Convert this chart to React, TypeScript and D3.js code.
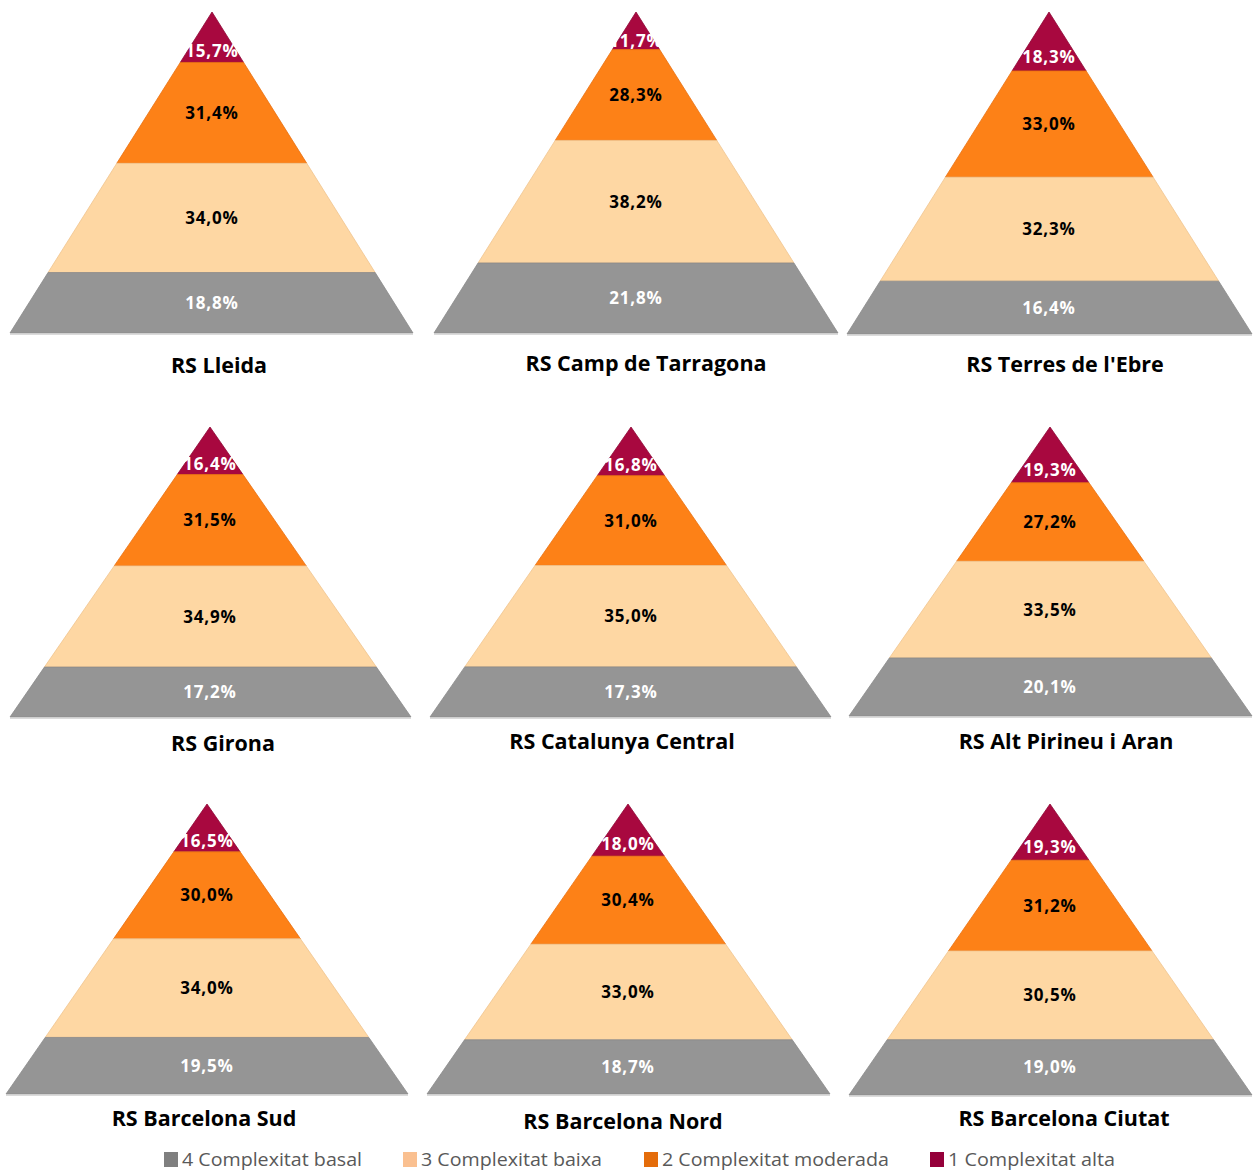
import React from "react";
import * as d3 from "d3";

const regions = [
  "RS Lleida",
  "RS Camp de Tarragona",
  "RS Terres de l'Ebre",
  "RS Girona",
  "RS Catalunya Central",
  "RS Alt Pirineu i Aran",
  "RS Barcelona Sud",
  "RS Barcelona Nord",
  "RS Barcelona Ciutat",
];
// top -> bottom
const alta = [15.7, 11.7, 18.3, 16.4, 16.8, 19.3, 16.5, 18.0, 19.3];
const moderada = [31.4, 28.3, 33.0, 31.5, 31.0, 27.2, 30.0, 30.4, 31.2];
const baixa = [34.0, 38.2, 32.3, 34.9, 35.0, 33.5, 34.0, 33.0, 30.5];
const basal = [18.8, 21.8, 16.4, 17.2, 17.3, 20.1, 19.5, 18.7, 19.0];

const legendLabels = [
  "4 Complexitat basal",
  "3 Complexitat baixa",
  "2 Complexitat moderada",
  "1 Complexitat alta",
];

// layout (pixel geometry of each panel)
const panels = [
  { ax: 212, ay: 12, bl: 10, br: 413, by: 333, tx: 219, ty: 373 },
  { ax: 636, ay: 12, bl: 434, br: 838, by: 333, tx: 646, ty: 371 },
  { ax: 1049, ay: 12, bl: 847, br: 1252, by: 334, tx: 1065, ty: 372 },
  { ax: 210, ay: 427, bl: 10, br: 411, by: 717, tx: 223, ty: 751 },
  { ax: 631, ay: 427, bl: 430, br: 831, by: 717, tx: 622, ty: 749 },
  { ax: 1050, ay: 427, bl: 849, br: 1252, by: 716, tx: 1066, ty: 749 },
  { ax: 207, ay: 804, bl: 6, br: 408, by: 1094, tx: 204, ty: 1126 },
  { ax: 628, ay: 804, bl: 427, br: 830, by: 1094, tx: 623, ty: 1129 },
  { ax: 1050, ay: 804, bl: 849, br: 1252, by: 1095, tx: 1064, ty: 1126 },
];

const fills = ["#A8083F", "#FD8117", "#FED7A3", "#959595"];
const strokes = ["#8e0635", "#e87010", "#f0c48e", "#8a8a8a"];
const textColors = ["#ffffff", "#000000", "#000000", "#ffffff"];
const legendColors = ["#7F7F7F", "#FAC090", "#E46C0A", "#95003A"];
const legendPos = [
  { sx: 164, tx: 182, w: 180 },
  { sx: 403, tx: 421, w: 181 },
  { sx: 644, tx: 662, w: 227 },
  { sx: 930, tx: 948, w: 167 },
];

const fmt = (v: number) => v.toFixed(1).replace(".", ",") + "%";

export default function App() {
  const W = 1259,
    H = 1171;
  const pad = 3;
  return (
    <svg
      width={W}
      height={H}
      style={{ position: "absolute", left: 0, top: 0, background: "#fff" }}
      fontFamily="'Open Sans', sans-serif"
    >
      <defs>
        {panels.map((p, i) => (
          <clipPath id={`tri${i}`} key={i}>
            <polygon
              points={`${p.ax - pad},${p.ay - 8} ${p.ax + pad},${p.ay - 8} ${p.br + pad},${p.by} ${p.bl - pad},${p.by}`}
            />
          </clipPath>
        ))}
      </defs>
      {regions.map((name, i) => {
        const p = panels[i];
        const vals = [alta[i], moderada[i], baixa[i], basal[i]];
        const total = d3.sum(vals);
        const y = d3.scaleLinear().domain([0, total]).range([p.ay, p.by]);
        const xl = d3.scaleLinear().domain([p.ay, p.by]).range([p.ax, p.bl]);
        const xr = d3.scaleLinear().domain([p.ay, p.by]).range([p.ax, p.br]);
        let cum = 0;
        const segs = vals.map((v, k) => {
          const y0 = y(cum);
          cum += v;
          const y1 = y(cum);
          return { v, k, y0, y1 };
        });
        const line = d3.line();
        return (
          <g key={i}>
            {segs.map((s) => (
              <path
                key={s.k}
                d={
                  line([
                    [xl(s.y0), s.y0],
                    [xr(s.y0), s.y0],
                    [xr(s.y1), s.y1],
                    [xl(s.y1), s.y1],
                  ]) + "Z"
                }
                fill={fills[s.k]}
                stroke={strokes[s.k]}
                strokeWidth={0.8}
              />
            ))}
            <line
              x1={p.bl}
              x2={p.br}
              y1={p.by + 1}
              y2={p.by + 1}
              stroke="#cfcfcf"
              strokeWidth={1.5}
            />
            <g clipPath={`url(#tri${i})`}>
              {segs.map((s) => {
                const cy =
                  s.k === 0 ? s.y0 + (s.y1 - s.y0) * 0.77 : (s.y0 + s.y1) / 2;
                return (
                  <text
                    key={s.k}
                    x={p.ax}
                    y={cy}
                    dy="0.36em"
                    textAnchor="middle"
                    fontSize={17}
                    fontWeight={700}
                    letterSpacing={0.8}
                    fill={textColors[s.k]}
                  >
                    {fmt(s.v)}
                  </text>
                );
              })}
            </g>
            <text
              x={p.tx}
              y={p.ty}
              textAnchor="middle"
              fontSize={21.5}
              fontWeight={700}
              fill="#000"
            >
              {name}
            </text>
          </g>
        );
      })}
      {legendLabels.map((l, k) => (
        <g key={k}>
          <rect
            x={legendPos[k].sx}
            y={1152}
            width={14}
            height={15}
            fill={legendColors[k]}
          />
          <text
            x={legendPos[k].tx}
            y={1166}
            fontSize={18}
            fill="#595959"
            textLength={legendPos[k].w}
            lengthAdjust="spacingAndGlyphs"
          >
            {l}
          </text>
        </g>
      ))}
    </svg>
  );
}
